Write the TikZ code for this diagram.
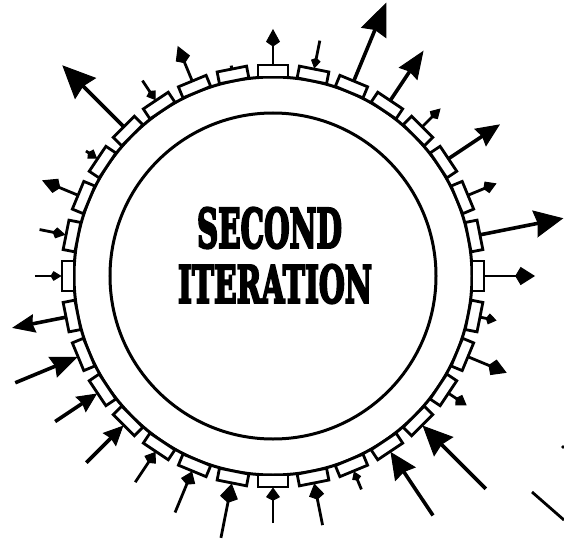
\documentclass[tikz,border=0pt]{standalone}
\usepackage{fontspec}
\usepackage{graphicx}
\newfontfamily\titlefont{DejaVu Serif}[UprightFont={* Bold}, FakeBold=5]
\usetikzlibrary{arrows.meta}
\begin{document}
\begin{tikzpicture}[x=1pt,y=1pt,
  ring/.style={line width=3pt},
  boxs/.style={draw, line width=2.8pt, fill=white, rectangle, minimum width=30pt, minimum height=12pt, inner sep=0pt},
  title/.style={inner sep=0pt}]
\useasboundingbox (-273,-262) rectangle (291,276);
\coordinate (C) at (0,0);
\draw[ring] (C) circle[radius=163];
\draw[ring] (C) circle[radius=199];
\foreach \k in {0,...,31}{
  \pgfmathsetmacro\a{\k*11.25}
  \node[boxs, rotate=\a-90] (b\k) at (\a:205) {};
  \coordinate (s\k) at (\a:211.5);
}
% outward arrows
\foreach \k/\r/\L/\W in {0/262/18/13, 1/296/29/22, 2/242/13/9, 3/273/24/17, 4/237/12/8, 5/271/28/18, 6/296/33/22, 8/247/16/10, 10/249/17/11, 12/298/33/24, 14/250/18/11, 17/266/23/15, 29/233/12/9, 30/253/18/12, 31/228/10/8}{
  \pgfmathsetmacro\a{\k*11.25}
  \coordinate (e\k) at (\a:\r);
  \ifnum\L<20
    \draw[line width=2.8pt, -{Kite[length=1.1*\L pt, width=1.4*\W pt, inset=0.3*\L pt, line width=1pt]}] (s\k) -- (e\k);
  \else
    \draw[line width=3.6pt, -{Stealth[length=\L pt, width=1.25*\W pt, inset=0.1*\L pt, line width=1pt]}] (s\k) -- (e\k);
  \fi
}
% inward arrows
\foreach \k/\r/\L/\W in {7/240/10/7, 11/235/10/8, 13/225/10/8, 15/238/12/8, 16/238/10/7, 18/279/27/18, 19/262/20/15, 20/264/20/15, 21/248/12/10, 22/256/13/11, 23/267/18/13, 24/247/12/10, 25/254/15/11, 26/231/9/7, 27/288/27/20, 28/301/30/22}{
  \pgfmathsetmacro\a{\k*11.25}
  \coordinate (e\k) at (\a:\r);
  \ifnum\L<20
    \draw[line width=2.8pt, -{Kite[length=1.1*\L pt, width=1.4*\W pt, inset=0.3*\L pt, line width=1pt]}] (e\k) -- (s\k);
  \else
    \draw[line width=3.6pt, -{Stealth[length=\L pt, width=1.25*\W pt, inset=0.1*\L pt, line width=1pt]}] (e\k) -- (s\k);
  \fi
}
% tiny bump on box 9
\coordinate (bump) at (101.25:214.5);
\draw[line width=3pt] (s9) -- (bump);
% fragments of a neighbouring figure
\coordinate (f1) at (259,-216);
\coordinate (f2) at (291,-244);
\draw[line width=2.8pt] (f1) -- (f2);
\fill (290,-171) circle[radius=1.8];
% title
\node[title] (t1) at (-3.5,48) {\resizebox{145pt}{40pt}{\titlefont SECOND}};
\node[title] (t2) at (2,-8) {\resizebox{194pt}{38pt}{\titlefont ITERATION}};
\end{tikzpicture}
\end{document}
